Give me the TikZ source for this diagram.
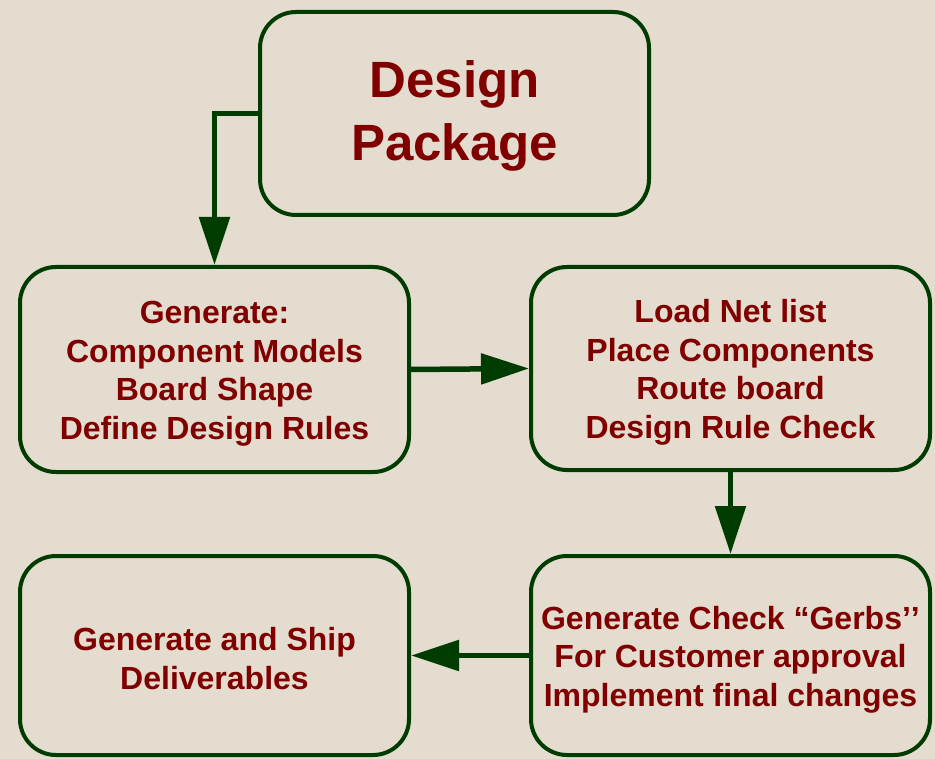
\documentclass[tikz,border=0pt]{standalone}
\usepackage{fontspec}
\setmainfont{Liberation Sans}[Ligatures=NoCommon]
\usetikzlibrary{arrows.meta}
\definecolor{bgpaper}{RGB}{228,220,207}
\definecolor{boxgreen}{RGB}{0,60,0}
\definecolor{txtred}{RGB}{128,0,0}
\begin{document}
\begin{tikzpicture}[x=1pt,y=-1pt,
  box/.style={draw=boxgreen, line width=4pt, rounded corners=36pt, inner sep=0pt},
  boxtext/.style={align=center, text=txtred, inner sep=0pt,
    font=\bfseries\fontsize{32}{38.5}\selectfont},
  flow/.style={draw=boxgreen, line width=5.5pt,
    -{Triangle[length=48pt,width=30pt]}, color=boxgreen}]
\fill[bgpaper] (0,0) rectangle (935,759);
\useasboundingbox (0,0) rectangle (935,759);
\node[box, minimum width=389pt, minimum height=203pt] (dp) at (454.5,113.5) {};
\node[box, minimum width=389pt, minimum height=205pt] (b1) at (214.5,369.5) {};
\node[box, minimum width=399pt, minimum height=203pt] (b2) at (730.5,368.5) {};
\node[box, minimum width=399pt, minimum height=199pt] (b3) at (730.5,655.5) {};
\node[box, minimum width=389pt, minimum height=199pt] (b4) at (214.5,655.5) {};
\node[boxtext, font=\bfseries\fontsize{51}{63}\selectfont, yshift=-2pt] (dpt) at (dp.center) {Design\\Package};
\node[boxtext, yshift=-4pt] (b1t) at (b1.center)
  {Generate:\\Component Models\\Board Shape\\Define Design Rules};
\node[boxtext, yshift=-4pt] (b2t) at (b2.center)
  {Load Net list\\Place Components\\Route board\\Design Rule Check};
\node[boxtext, yshift=-4pt] (b3t) at (b3.center)
  {Generate Check “Gerbs’\kern0pt’\\For Customer approval\\Implement final changes};
\node[boxtext, yshift=-3pt] (b4t) at (b4.center)
  {Generate and Ship\\Deliverables};
\draw[flow] (dp.west) -| (b1.north);
\draw[flow] (b1.east) -- (b2.west);
\draw[flow] (b2.south) -- (b3.north);
\draw[flow] (b3.west) -- (b4.east);
\end{tikzpicture}
\end{document}
